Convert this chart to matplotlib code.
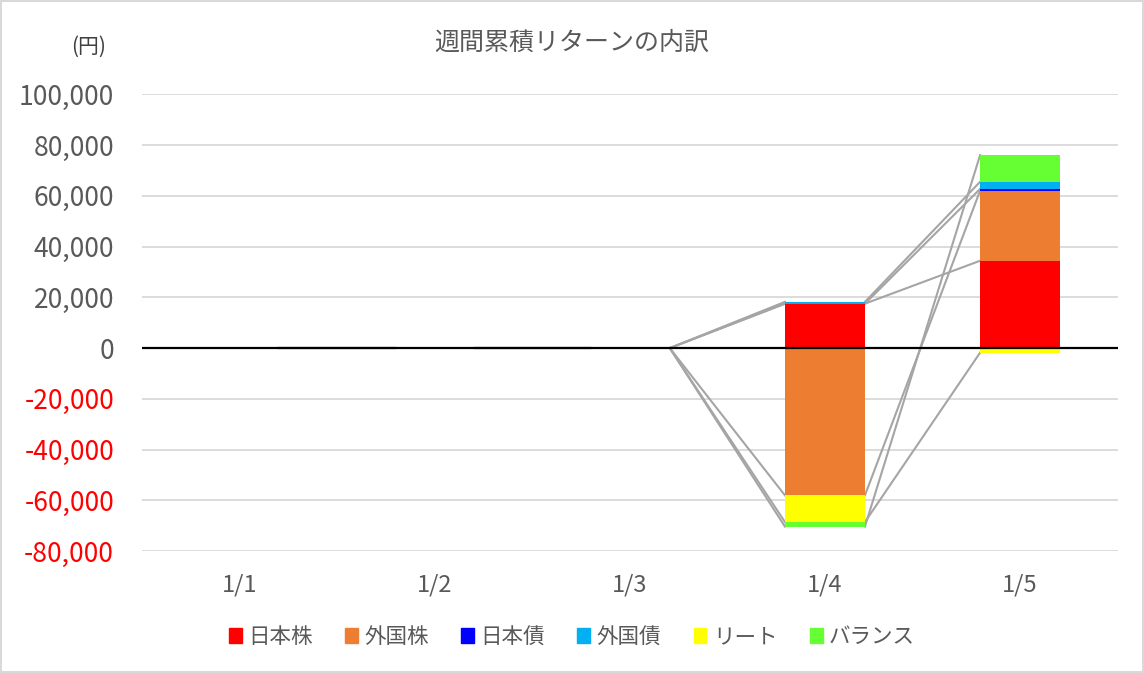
import numpy as np
import matplotlib
matplotlib.use("Agg")
import matplotlib.pyplot as plt
from matplotlib.patches import Patch

plt.rcParams["font.family"] = ["Noto Sans CJK JP", "DejaVu Sans"]

dates = ["1/1", "1/2", "1/3", "1/4", "1/5"]
series_names = ["日本株", "外国株", "日本債", "外国債", "リート", "バランス"]
jp_stock = [0, 0, 0, 17500, 34400]
fg_stock = [0, 0, 0, -58000, 27600]
jp_bond = [0, 0, 0, 0, 700]
fg_bond = [0, 0, 0, 700, 2800]
reit = [0, 0, 0, -10500, -1800]
balance = [0, 0, 0, -1800, 10500]
colors = ["#FF0000", "#ED7D31", "#0000FF", "#00B0F0", "#FFFF00", "#66FF33"]

values = [jp_stock, fg_stock, jp_bond, fg_bond, reit, balance]

fig = plt.figure(figsize=(11.44, 6.73), dpi=100)
fig.patch.set_edgecolor("#D9D9D9")
fig.patch.set_linewidth(1.5)
ax = fig.add_axes([0.124, 0.181, 0.853, 0.679])

x = np.arange(len(dates))
width = 0.41
pos_base = np.zeros(len(dates))
neg_base = np.zeros(len(dates))
ends = []
for vals, color in zip(values, colors):
    v = np.array(vals, dtype=float)
    bottom = np.where(v >= 0, pos_base, neg_base)
    ax.bar(x, v, width, bottom=bottom, color=color, zorder=2)
    end = bottom + v
    ends.append(end)
    pos_base = np.where(v >= 0, pos_base + v, pos_base)
    neg_base = np.where(v < 0, neg_base + v, neg_base)

# series lines between neighbouring columns
for end in ends:
    for i in range(len(dates) - 1):
        ax.plot([x[i] + width / 2, x[i + 1] - width / 2], [end[i], end[i + 1]],
                color="#A5A5A5", lw=1.5, zorder=1.5)

ax.axhline(0, color="black", lw=1.6, zorder=3)
ax.set_xlim(-0.5, len(dates) - 0.5)
ax.set_ylim(-80000, 100000)
ax.set_yticks(np.arange(-80000, 100001, 20000))
ax.yaxis.grid(True, color="#D9D9D9", lw=1.3, zorder=0)
ax.set_axisbelow(True)
for s in ax.spines.values():
    s.set_visible(False)
ax.tick_params(length=0)
ax.tick_params(axis="y", pad=20)
ax.tick_params(axis="x", pad=16)
ax.set_xticks(x)
ax.set_xticklabels(dates, fontsize=17, color="#595959")
ax.set_yticklabels([f"{int(t):,}" for t in ax.get_yticks()], fontsize=19)
for lab, t in zip(ax.get_yticklabels(), ax.get_yticks()):
    lab.set_color("#FF0000" if t < 0 else "#595959")

fig.text(0.5, 0.937, "週間累積リターンの内訳", ha="center", va="center",
         fontsize=18, color="#595959")
fig.text(0.077, 0.93, "(円)", ha="center", va="center", fontsize=15, color="#404040")

handles = [Patch(color=c, label=n) for c, n in zip(colors, series_names)]
fig.legend(handles=handles, loc="center", bbox_to_anchor=(0.5, 0.053), ncol=6,
           frameon=False, fontsize=15.5, labelcolor="#595959",
           handlelength=0.6, handleheight=0.7, handletextpad=0.3, columnspacing=1.5)

fig.savefig("out.png", dpi=100)
